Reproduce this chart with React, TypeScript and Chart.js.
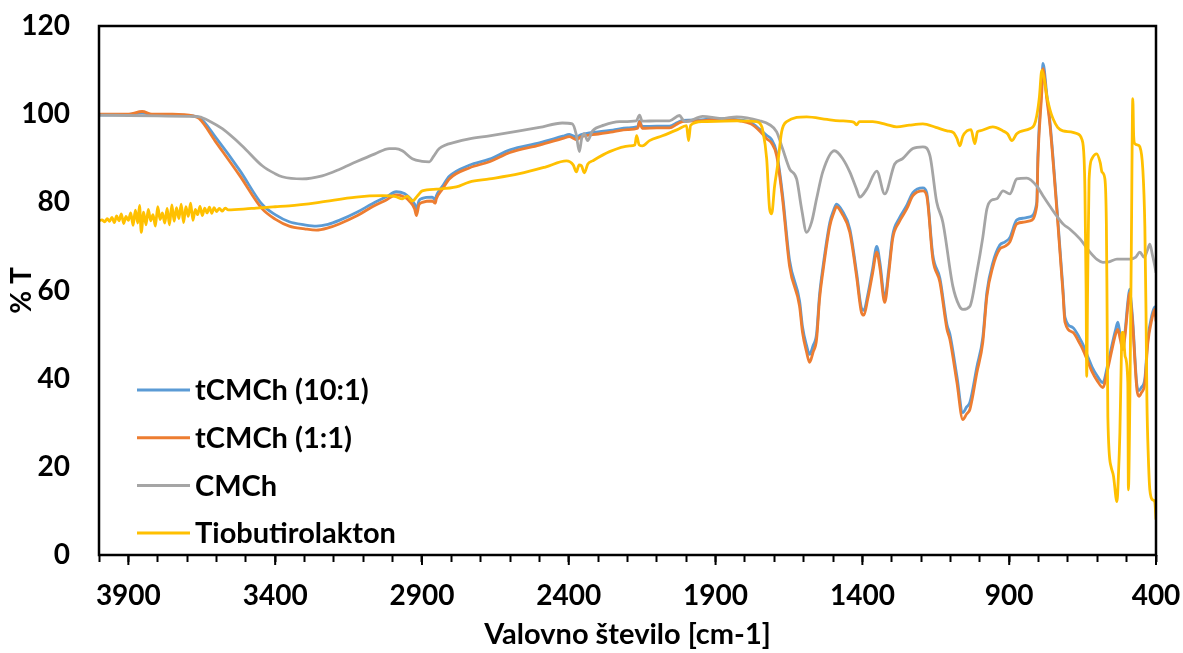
import React, { useEffect, useRef } from "react";
import { Chart, registerables } from "chart.js";

Chart.register(...registerables);

// ---------- DATA ----------
const seriesNames = ["tCMCh (10:1)", "tCMCh (1:1)", "CMCh", "Tiobutirolakton"];
const seriesColors = ["#5B9BD5", "#ED7D31", "#A5A5A5", "#FFC000"];

const xTickLabels = [3900, 3400, 2900, 2400, 1900, 1400, 900, 400];
const yTickLabels = [0, 20, 40, 60, 80, 100, 120];

const wavenumbersT = [
  4000, 3900, 3853, 3820, 3750, 3680, 3659, 3600, 3520, 3444, 3400, 3352, 3300, 3260, 3220, 3182,
  3120, 3069, 3020, 2988, 2960, 2943, 2925, 2919, 2910, 2899, 2865, 2855, 2851, 2830, 2807, 2739,
  2670, 2600, 2500, 2420, 2398, 2374, 2360, 2300, 2250, 2200, 2165, 2159, 2150, 2100, 2057, 2030,
  2013, 1950, 1900, 1850, 1818, 1780, 1750, 1726, 1710, 1692, 1672, 1648, 1614, 1604, 1590, 1580,
  1568, 1556, 1546, 1535, 1511, 1498, 1488, 1470, 1443, 1420, 1403, 1395, 1382, 1365, 1351, 1340,
  1324, 1310, 1297, 1275, 1249, 1228, 1194, 1181, 1160, 1136, 1112, 1102, 1078, 1058, 1045, 1034,
  1010, 990, 976, 956, 932, 915, 898, 874, 850, 830, 806, 802, 789, 785, 772, 761, 738, 717, 710,
  683, 660, 649, 630, 618, 600, 581, 565, 550, 538, 530, 522, 513, 505, 496, 490, 484, 479, 465,
  458, 450, 438, 428, 414, 404, 400,
];
const tcmch10 = [
  99.8, 99.9, 100.3, 99.9, 99.8, 99.6, 99.3, 94.5, 87.2, 79.5, 77.2, 75.6, 74.9, 74.6, 75.0, 75.9,
  77.8, 79.7, 81.3, 82.4, 82.0, 81.1, 79.6, 78.5, 80.4, 80.9, 81.2, 80.6, 81.5, 83.7, 85.9, 88.4,
  89.8, 91.9, 93.5, 95.0, 95.4, 94.8, 95.3, 96.0, 96.4, 96.9, 97.2, 98.5, 97.2, 97.3, 97.3, 98.1,
  98.6, 98.7, 99.0, 98.9, 98.7, 98.1, 96.6, 95.2, 94.3, 91.3, 81.8, 66.8, 57.6, 51.8, 47.5, 45.5,
  47.5, 50.2, 59.0, 65.0, 75.4, 78.2, 79.6, 78.2, 74.0, 64.2, 56.0, 55.5, 58.9, 65.0, 70.0, 66.2,
  58.3, 65.0, 72.5, 76.3, 79.3, 82.2, 83.3, 82.2, 68.0, 62.8, 52.3, 50.1, 40.5, 32.3, 33.6, 34.6,
  42.7, 49.3, 59.6, 66.2, 70.3, 71.0, 72.0, 76.0, 76.4, 76.7, 80.0, 91.0, 106.5, 111.5, 104.5, 98.2,
  79.3, 60.5, 53.9, 51.6, 49.2, 47.8, 44.6, 42.7, 40.6, 39.1, 43.0, 47.6, 51.0, 52.8, 50.0, 47.6,
  51.0, 57.4, 60.3, 57.0, 53.0, 38.5, 37.3, 38.0, 40.0, 48.9, 54.4, 56.3, 54.0,
];
const tcmch11 = [
  100.0, 100.0, 100.6, 100.0, 100.0, 99.6, 99.0, 93.5, 86.0, 78.5, 76.2, 74.6, 74.0, 73.7, 74.2, 75.1,
  77.0, 79.0, 80.6, 81.7, 81.2, 80.3, 78.5, 77.0, 79.5, 80.0, 80.3, 79.8, 80.8, 83.0, 85.3, 87.8,
  89.2, 91.3, 93.0, 94.5, 94.9, 94.2, 94.8, 95.5, 96.0, 96.5, 96.8, 98.3, 96.8, 96.9, 96.9, 97.8,
  98.3, 98.5, 98.8, 98.7, 98.5, 97.8, 96.2, 94.4, 93.5, 90.6, 80.8, 65.5, 56.4, 50.5, 46.0, 43.7,
  46.0, 48.9, 58.0, 64.0, 74.6, 77.5, 79.0, 77.5, 73.2, 63.3, 55.0, 54.4, 58.0, 64.0, 68.7, 65.0,
  57.3, 64.0, 71.7, 75.5, 78.5, 81.5, 82.6, 81.5, 67.1, 61.9, 51.2, 48.9, 39.1, 30.7, 32.0, 33.0,
  41.4, 48.2, 58.7, 65.3, 69.4, 70.0, 71.0, 75.1, 75.5, 75.8, 79.2, 89.9, 105.0, 110.3, 103.5, 97.4,
  78.5, 59.6, 52.8, 50.5, 48.0, 46.6, 43.5, 41.6, 39.5, 38.0, 42.0, 46.6, 50.0, 51.2, 49.0, 46.6,
  50.0, 56.4, 59.5, 56.0, 51.9, 37.5, 36.0, 36.8, 39.0, 48.0, 53.5, 55.7, 53.0,
];

const wavenumbersCMCh = [
  4000, 3900, 3800, 3700, 3659, 3620, 3580, 3512, 3444, 3400, 3376, 3308, 3240, 3180, 3124, 3060,
  3011, 2990, 2967, 2933, 2900, 2875, 2860, 2841, 2783, 2739, 2670, 2568, 2500, 2422, 2388, 2375,
  2364, 2356, 2347, 2336, 2319, 2280, 2227, 2170, 2159, 2150, 2101, 2057, 2023, 2010, 1999, 1944,
  1880, 1828, 1750, 1716, 1692, 1672, 1648, 1624, 1607, 1590, 1573, 1556, 1535, 1495, 1467, 1443,
  1420, 1409, 1385, 1351, 1324, 1290, 1263, 1228, 1194, 1170, 1147, 1126, 1092, 1070, 1058, 1034,
  1010, 990, 976, 960, 942, 921, 898, 874, 840, 806, 785, 760, 738, 715, 693, 659, 625, 600, 581,
  560, 533, 489, 470, 455, 440, 430, 421, 412, 404, 400,
];
const cmch = [
  99.8, 99.7, 99.6, 99.5, 99.4, 98.3, 96.7, 92.8, 88.3, 86.5, 85.8, 85.3, 86.0, 87.5, 89.2, 91.0,
  92.2, 92.2, 91.7, 89.9, 89.3, 89.2, 90.5, 92.2, 93.7, 94.4, 95.1, 96.2, 97.0, 98.0, 97.8, 95.5,
  91.5, 94.5, 95.6, 94.0, 96.2, 97.5, 98.3, 98.5, 99.8, 98.4, 98.5, 98.5, 99.7, 98.6, 98.3, 99.5,
  99.0, 99.4, 98.5, 97.6, 96.0, 92.2, 87.6, 85.3, 78.5, 73.2, 75.5, 80.8, 86.9, 91.7, 89.9, 86.9,
  83.0, 81.2, 83.0, 87.1, 81.9, 88.7, 89.9, 92.2, 92.6, 90.6, 80.1, 75.5, 61.0, 56.5, 55.7, 56.4,
  64.2, 72.0, 78.5, 80.5, 80.8, 82.6, 81.9, 85.3, 85.5, 83.7, 81.5, 79.0, 76.9, 75.0, 73.9, 71.7,
  68.7, 67.0, 66.4, 66.5, 67.1, 67.1, 67.5, 68.7, 67.5, 69.0, 70.5, 68.0, 65.5, 64.0,
];

const wavenumbersTio = [
  4000, 3990, 3980, 3972, 3964, 3956, 3948, 3940, 3932, 3924, 3916, 3908, 3900, 3892, 3884, 3876,
  3868, 3862, 3856, 3848, 3840, 3832, 3824, 3816, 3808, 3800, 3792, 3784, 3776, 3768, 3760, 3752,
  3744, 3736, 3728, 3720, 3712, 3704, 3696, 3688, 3680, 3672, 3664, 3656, 3648, 3640, 3632, 3624,
  3616, 3608, 3600, 3590, 3580, 3570, 3560, 3500,
  3465, 3400, 3352, 3250, 3124, 3035, 2990, 2967, 2950, 2933, 2915, 2899, 2850, 2783, 2739, 2670,
  2568, 2480, 2408, 2385, 2374, 2365, 2357, 2347, 2335, 2319, 2261, 2193, 2175, 2169, 2160, 2149,
  2125, 2081, 2030, 1999, 1992, 1985, 1944, 1828, 1760, 1745, 1740, 1726, 1716, 1709, 1699, 1689,
  1675, 1658, 1590, 1520, 1477, 1430, 1420, 1410, 1365, 1320, 1283, 1240, 1194, 1150, 1112, 1090,
  1078, 1068, 1058, 1044, 1030, 1017, 1008, 1000, 956, 921, 905, 891, 875, 864, 830, 815, 806, 797,
  789, 781, 772, 761, 751, 735, 717, 690, 670, 653, 645, 642, 638, 636, 633, 628, 618, 602, 590,
  584, 574, 569, 567, 564, 553, 545, 533, 528, 523, 518, 516, 512, 505, 496, 494, 489, 484, 479,
  476, 472, 462, 455, 445, 438, 434, 431, 426, 421, 411, 404, 400,
];
const tiobutirolakton = [
  75.8, 76.0, 75.6, 76.3, 75.7, 76.6, 75.4, 76.9, 75.8, 77.4, 75.2, 76.8, 75.9, 77.6, 74.8, 78.2,
  75.3, 79.3, 73.2, 77.8, 74.9, 78.4, 75.8, 77.2, 74.6, 79.0, 76.1, 77.6, 75.3, 78.6, 74.9, 79.4,
  75.7, 78.8, 76.3, 79.6, 75.4, 79.0, 76.8, 79.8, 75.9, 78.4, 77.2, 79.1, 77.0, 78.7, 77.6, 78.9,
  77.5, 78.8, 77.9, 78.6, 78.0, 78.7, 78.3, 78.5,
  78.7, 79.0, 79.2, 80.0, 81.2, 81.5, 81.3, 80.8, 81.4, 80.3, 81.5, 82.6, 83.0, 83.5, 84.6, 85.3,
  86.5, 88.0, 89.4, 88.5, 86.9, 88.5, 88.3, 86.7, 88.7, 89.4, 91.5, 92.8, 93.0, 95.1, 93.0, 92.8,
  94.0, 95.1, 96.5, 97.4, 94.0, 97.5, 98.3, 98.5, 98.3, 97.5, 96.5, 89.9, 78.5, 77.4, 83.7, 88.3,
  96.0, 98.3, 99.4, 98.8, 98.5, 98.2, 97.6, 98.3, 98.3, 97.7, 97.1, 97.5, 97.8, 97.0, 96.2, 95.8,
  94.5, 92.8, 95.0, 96.2, 96.5, 93.3, 96.0, 96.2, 97.1, 96.2, 95.5, 94.0, 95.5, 96.0, 96.7, 97.5, 99.7, 104.0,
  109.9, 108.0, 104.2, 101.0, 99.0, 97.0, 96.2, 96.0, 95.6, 94.4, 90.0, 82.4, 60.0, 40.5, 60.0, 85.0, 89.9, 91.0, 89.0,
  86.9, 85.3, 75.0, 59.6, 31.4, 20.0, 18.0, 12.1, 18.0, 27.8, 45.0, 50.5, 50.5, 45.0, 39.1, 14.8, 35.3, 70.0, 103.5,
  95.0, 93.3, 93.0, 92.6, 87.6, 74.6, 55.0, 35.3, 22.0, 14.8, 12.5, 12.0, 8.0,
];

const FONT = "Lato";
const FONT_SIZE = 28;

export default function App() {
  const ref = useRef<HTMLCanvasElement | null>(null);

  useEffect(() => {
    document.body.style.margin = "0";
    const zip = (xs: number[], ys: number[]) => xs.map((x, i) => ({ x, y: ys[i] }));
    const seriesData = [
      zip(wavenumbersT, tcmch10),
      zip(wavenumbersT, tcmch11),
      zip(wavenumbersCMCh, cmch),
      zip(wavenumbersTio, tiobutirolakton),
    ];
    const orders = [4, 3, 2, 1];

    const boxPlugin = {
      id: "boxAndTicks",
      afterDraw(chart: any) {
        const { ctx, chartArea } = chart;
        const xs = chart.scales.x;
        ctx.save();
        ctx.strokeStyle = "#000";
        ctx.lineWidth = 2.5;
        ctx.strokeRect(chartArea.left, chartArea.top, chartArea.right - chartArea.left, chartArea.bottom - chartArea.top);
        ctx.lineWidth = 2;
        for (const v of xTickLabels) {
          const px = xs.getPixelForValue(v);
          ctx.beginPath();
          ctx.moveTo(px, chartArea.bottom);
          ctx.lineTo(px, chartArea.bottom + 10);
          ctx.stroke();
        }
        ctx.restore();
      },
    };

    const legendPlugin = {
      id: "insideLegend",
      afterDraw(chart: any) {
        const { ctx, chartArea } = chart;
        ctx.save();
        ctx.font = `bold ${FONT_SIZE + 1}px ${FONT}`;
        ctx.textBaseline = "middle";
        ctx.textAlign = "left";
        seriesNames.forEach((name, i) => {
          const y = chartArea.bottom - 165 + i * 47.7;
          const x0 = chartArea.left + 38;
          ctx.strokeStyle = seriesColors[i];
          ctx.lineWidth = 3;
          ctx.beginPath();
          ctx.moveTo(x0, y);
          ctx.lineTo(x0 + 53, y);
          ctx.stroke();
          ctx.fillStyle = "#000";
          ctx.fillText(name, x0 + 58, y + 1);
        });
        ctx.restore();
      },
    };

    const tickFont = { family: FONT, size: FONT_SIZE, weight: "bold" as const };
    const noPad = (s: any) => {
      s.paddingTop = 0;
      s.paddingBottom = 0;
      s.paddingLeft = 0;
      s.paddingRight = 0;
    };

    const chart = new Chart(ref.current as HTMLCanvasElement, {
      type: "line",
      data: {
        datasets: seriesNames.map((name, i) => ({
          label: name,
          data: seriesData[i],
          borderColor: seriesColors[i],
          backgroundColor: seriesColors[i],
          borderWidth: 2.8,
          pointRadius: 0,
          fill: false,
          cubicInterpolationMode: "monotone" as const,
          order: orders[i],
        })),
      },
      options: {
        animation: false,
        responsive: false,
        devicePixelRatio: 1,
        layout: { padding: { top: 26, right: 27, left: 0, bottom: 0 } },
        plugins: {
          legend: { display: false },
          tooltip: { enabled: false },
        },
        scales: {
          x: {
            type: "linear",
            reverse: true,
            min: 400,
            max: 4000,
            afterFit: (s: any) => {
              s.height = 98;
              noPad(s);
            },
            border: { display: false },
            grid: {
              display: true,
              drawOnChartArea: false,
              drawTicks: true,
              tickLength: 7,
              tickWidth: 2,
              tickColor: "#000",
            },
            ticks: {
              stepSize: 100,
              autoSkip: false,
              maxRotation: 0,
              padding: 17,
              color: "#000",
              font: tickFont,
              callback: (v: any) => (xTickLabels.includes(Number(v)) ? String(v) : ""),
            },
            title: {
              display: true,
              text: "Valovno število [cm-1]",
              color: "#000",
              font: { family: FONT, size: FONT_SIZE + 1, weight: "bold" as const },
              padding: { top: 0, bottom: 1 },
            },
          },
          y: {
            min: 0,
            max: 120,
            afterFit: (s: any) => {
              s.width = 99;
              noPad(s);
            },
            border: { display: false },
            grid: { display: false, drawTicks: false },
            ticks: {
              stepSize: 20,
              padding: 29,
              color: "#000",
              font: tickFont,
              callback: (v: any) => (yTickLabels.includes(Number(v)) ? String(v) : ""),
            },
            title: {
              display: true,
              text: "% T",
              color: "#000",
              font: tickFont,
              padding: { top: 5, bottom: 0 },
            },
          },
        },
      },
      plugins: [boxPlugin, legendPlugin],
    });
    return () => chart.destroy();
  }, []);

  return (
    <div style={{ width: 1183, height: 653 }}>
      <canvas ref={ref} width={1183} height={653} style={{ display: "block" }} />
    </div>
  );
}
